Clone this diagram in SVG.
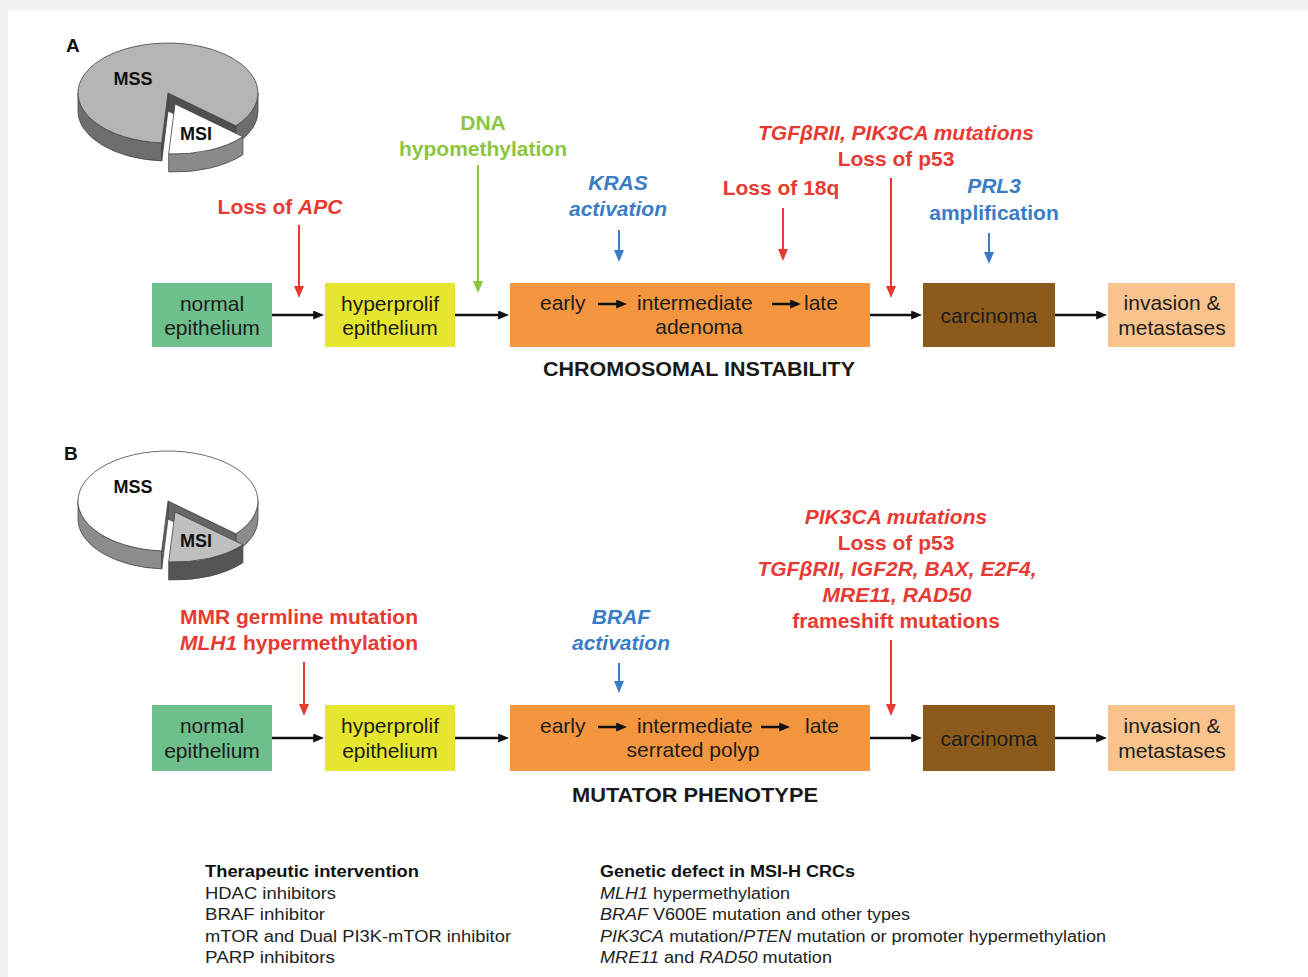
<svg xmlns="http://www.w3.org/2000/svg" width="1308" height="977" viewBox="0 0 1308 977">
<style>
text{font-family:"Liberation Sans",Arial,sans-serif}
.lbl{font-weight:bold;font-size:21px;text-anchor:middle}
.red{fill:#e63a33}
.blue{fill:#3b7cc6}
.green{fill:#8cc63f}
.it{font-style:italic}
.bx{font-size:21px;fill:#1c1c1c;text-anchor:middle}
.bxs{font-size:21px;fill:#1c1c1c}
.ttl{font-weight:bold;font-size:20px;fill:#1a1a1a;text-anchor:middle}
.pie{font-weight:bold;font-size:18px;fill:#111;text-anchor:middle}
.pl{font-weight:bold;font-size:19px;fill:#111}
.ft{font-size:16px;fill:#222}
.ftb{font-size:16px;fill:#111;font-weight:bold}
.ck{stroke:#111;stroke-width:2.5;fill:none}
.cr{stroke:#e63a33;stroke-width:2;fill:none}
.cb{stroke:#3b7cc6;stroke-width:2;fill:none}
.cg{stroke:#8cc63f;stroke-width:2;fill:none}
.ps{stroke:#444;stroke-width:0.8;stroke-linejoin:round}
</style>
<defs>
<marker id="ak" viewBox="0 0 12 10" markerWidth="12" markerHeight="9" refX="2" refY="5" orient="auto" markerUnits="userSpaceOnUse"><path d="M0,0 L12,5 L0,10 z" fill="#111"/></marker>
<marker id="ar" viewBox="0 0 12 10" markerWidth="12" markerHeight="10" refX="2" refY="5" orient="auto" markerUnits="userSpaceOnUse"><path d="M0,0 L12,5 L0,10 z" fill="#e63a33"/></marker>
<marker id="ab" viewBox="0 0 12 10" markerWidth="12" markerHeight="10" refX="2" refY="5" orient="auto" markerUnits="userSpaceOnUse"><path d="M0,0 L12,5 L0,10 z" fill="#3b7cc6"/></marker>
<marker id="ag" viewBox="0 0 12 10" markerWidth="12" markerHeight="10" refX="2" refY="5" orient="auto" markerUnits="userSpaceOnUse"><path d="M0,0 L12,5 L0,10 z" fill="#8cc63f"/></marker>
</defs>
<rect x="0" y="0" width="1308" height="977" fill="#f1f1f1"/>
<rect x="8" y="10" width="1300" height="967" fill="#ffffff"/>

<!-- Panel labels -->
<text class="pl" x="66" y="52">A</text>
<text class="pl" x="64" y="460">B</text>

<!-- Pie A -->
<g id="pieA">
<path class="ps" d="M161.7,142.9 A90,50 0 0 1 78,93 L78,111 A90,50 0 0 0 161.7,160.9 Z" fill="#6e6e6e"/>
<path class="ps" d="M258,93 A90,50 0 0 1 235.9,125.8 L235.9,143.8 A90,50 0 0 0 258,111 Z" fill="#6e6e6e"/>
<path class="ps" d="M168,93 L235.9,125.8 L235.9,143.8 L168,111 Z" fill="#4f4f4f"/>
<path class="ps" d="M168,93 L161.7,142.9 L161.7,160.9 L168,111 Z" fill="#4f4f4f"/>
<path class="ps" d="M168,93 L161.7,142.9 A90,50 0 1 1 235.9,125.8 Z" fill="#b5b5b5"/>
<path class="ps" d="M242.9,136.8 A90,50 0 0 1 168.7,153.9 L168.7,171.9 A90,50 0 0 0 242.9,154.8 Z" fill="#8a8a8a"/>
<path class="ps" d="M175,104 L242.9,136.8 A90,50 0 0 1 168.7,153.9 Z" fill="#ffffff"/>
<text class="pie" x="133" y="85">MSS</text>
<text class="pie" x="196" y="140">MSI</text>
</g>

<!-- Pie B -->
<g id="pieB">
<path class="ps" d="M161.7,550.9 A90,50 0 0 1 78,501 L78,519 A90,50 0 0 0 161.7,568.9 Z" fill="#8c8c8c"/>
<path class="ps" d="M258,501 A90,50 0 0 1 235.9,533.8 L235.9,551.8 A90,50 0 0 0 258,519 Z" fill="#8c8c8c"/>
<path class="ps" d="M168,501 L235.9,533.8 L235.9,551.8 L168,519 Z" fill="#666666"/>
<path class="ps" d="M168,501 L161.7,550.9 L161.7,568.9 L168,519 Z" fill="#666666"/>
<path class="ps" d="M168,501 L161.7,550.9 A90,50 0 1 1 235.9,533.8 Z" fill="#ffffff"/>
<path class="ps" d="M242.9,544.8 A90,50 0 0 1 168.7,561.9 L168.7,579.9 A90,50 0 0 0 242.9,562.8 Z" fill="#555555"/>
<path class="ps" d="M175,512 L242.9,544.8 A90,50 0 0 1 168.7,561.9 Z" fill="#bfbfbf"/>
<text class="pie" x="133" y="493">MSS</text>
<text class="pie" x="196" y="547">MSI</text>
</g>

<!-- Panel A nodes -->
<g id="A-normal"><rect x="152" y="283" width="120" height="64" fill="#6dbf8b"/><text class="bx" x="212" y="311">normal</text><text class="bx" x="212" y="335">epithelium</text></g>
<g id="A-hyperprolif"><rect x="325" y="283" width="130" height="64" fill="#e6e62f"/><text class="bx" x="390" y="311">hyperprolif</text><text class="bx" x="390" y="335">epithelium</text></g>
<g id="A-adenoma"><rect x="510" y="283" width="360" height="64" fill="#f4963f"/>
<text class="bxs" x="540" y="310">early</text><text class="bxs" x="637" y="310">intermediate</text><text class="bxs" x="804" y="310">late</text>
<line class="ck" x1="598" y1="304" x2="618" y2="304" marker-end="url(#ak)"/>
<line class="ck" x1="772" y1="304" x2="792" y2="304" marker-end="url(#ak)"/>
<text class="bx" x="699" y="334">adenoma</text></g>
<g id="A-carcinoma"><rect x="923" y="283" width="132" height="64" fill="#8c5b1c"/><text class="bx" x="989" y="323">carcinoma</text></g>
<g id="A-invasion"><rect x="1108" y="283" width="127" height="64" fill="#f9c38e"/><text class="bx" x="1172" y="310">invasion &amp;</text><text class="bx" x="1172" y="335">metastases</text></g>
<text class="ttl" x="699" y="376" textLength="312" lengthAdjust="spacingAndGlyphs">CHROMOSOMAL INSTABILITY</text>

<!-- Panel A labels -->
<g id="A-apc"><text class="lbl red" x="280" y="214">Loss of <tspan class="it">APC</tspan></text></g>
<g id="A-dna"><text class="lbl green" x="483" y="130">DNA</text><text class="lbl green" x="483" y="156">hypomethylation</text></g>
<g id="A-kras"><text class="lbl blue it" x="618" y="190">KRAS</text><text class="lbl blue it" x="618" y="216">activation</text></g>
<g id="A-18q"><text class="lbl red" x="781" y="195">Loss of 18q</text></g>
<g id="A-p53"><text class="lbl red it" x="896" y="140">TGFβRII, PIK3CA mutations</text><text class="lbl red" x="896" y="166">Loss of p53</text></g>
<g id="A-prl3"><text class="lbl blue it" x="994" y="193">PRL3</text><text class="lbl blue" x="994" y="220">amplification</text></g>

<!-- Panel B nodes -->
<g id="B-normal"><rect x="152" y="705" width="120" height="66" fill="#6dbf8b"/><text class="bx" x="212" y="733">normal</text><text class="bx" x="212" y="758">epithelium</text></g>
<g id="B-hyperprolif"><rect x="325" y="705" width="130" height="66" fill="#e6e62f"/><text class="bx" x="390" y="733">hyperprolif</text><text class="bx" x="390" y="758">epithelium</text></g>
<g id="B-polyp"><rect x="510" y="705" width="360" height="66" fill="#f4963f"/>
<text class="bxs" x="540" y="733">early</text><text class="bxs" x="637" y="733">intermediate</text><text class="bxs" x="805" y="733">late</text>
<line class="ck" x1="598" y1="727" x2="618" y2="727" marker-end="url(#ak)"/>
<line class="ck" x1="761" y1="727" x2="781" y2="727" marker-end="url(#ak)"/>
<text class="bx" x="693" y="757">serrated polyp</text></g>
<g id="B-carcinoma"><rect x="923" y="705" width="132" height="66" fill="#8c5b1c"/><text class="bx" x="989" y="746">carcinoma</text></g>
<g id="B-invasion"><rect x="1108" y="705" width="127" height="66" fill="#f9c38e"/><text class="bx" x="1172" y="733">invasion &amp;</text><text class="bx" x="1172" y="758">metastases</text></g>
<text class="ttl" x="695" y="802" textLength="246" lengthAdjust="spacingAndGlyphs">MUTATOR PHENOTYPE</text>

<!-- Panel B labels -->
<g id="B-mmr"><text class="lbl red" x="299" y="624">MMR germline mutation</text><text class="lbl red" x="299" y="650"><tspan class="it">MLH1</tspan> hypermethylation</text></g>
<g id="B-braf"><text class="lbl blue it" x="621" y="624">BRAF</text><text class="lbl blue it" x="621" y="650">activation</text></g>
<g id="B-pik3ca"><text class="lbl red it" x="896" y="524">PIK3CA mutations</text><text class="lbl red" x="896" y="550">Loss of p53</text><text class="lbl red it" x="897" y="576">TGFβRII, IGF2R, BAX, E2F4,</text><text class="lbl red it" x="897" y="602">MRE11, RAD50</text><text class="lbl red" x="896" y="628">frameshift mutations</text></g>

<!-- Connectors -->
<g id="connectors">
<line class="ck" x1="272" y1="315" x2="315" y2="315" marker-end="url(#ak)"/>
<line class="ck" x1="455" y1="315" x2="500" y2="315" marker-end="url(#ak)"/>
<line class="ck" x1="870" y1="315" x2="913" y2="315" marker-end="url(#ak)"/>
<line class="ck" x1="1055" y1="315" x2="1098" y2="315" marker-end="url(#ak)"/>
<line class="ck" x1="272" y1="738" x2="315" y2="738" marker-end="url(#ak)"/>
<line class="ck" x1="455" y1="738" x2="500" y2="738" marker-end="url(#ak)"/>
<line class="ck" x1="870" y1="738" x2="913" y2="738" marker-end="url(#ak)"/>
<line class="ck" x1="1055" y1="738" x2="1098" y2="738" marker-end="url(#ak)"/>
<line class="cr" x1="299" y1="225" x2="299" y2="288" marker-end="url(#ar)"/>
<line class="cg" x1="478" y1="165" x2="478" y2="283" marker-end="url(#ag)"/>
<line class="cb" x1="619" y1="230" x2="619" y2="252" marker-end="url(#ab)"/>
<line class="cr" x1="783" y1="208" x2="783" y2="251" marker-end="url(#ar)"/>
<line class="cr" x1="891" y1="178" x2="891" y2="288" marker-end="url(#ar)"/>
<line class="cb" x1="989" y1="233" x2="989" y2="254" marker-end="url(#ab)"/>
<line class="cr" x1="304" y1="662" x2="304" y2="706" marker-end="url(#ar)"/>
<line class="cb" x1="619" y1="663" x2="619" y2="683" marker-end="url(#ab)"/>
<line class="cr" x1="891" y1="640" x2="891" y2="706" marker-end="url(#ar)"/>
</g>

<!-- Footer lists -->
<g id="therapy">
<text class="ftb" x="205" y="877" textLength="214" lengthAdjust="spacingAndGlyphs">Therapeutic intervention</text>
<text class="ft" x="205" y="898.5" textLength="131" lengthAdjust="spacingAndGlyphs">HDAC inhibitors</text>
<text class="ft" x="205" y="920" textLength="120" lengthAdjust="spacingAndGlyphs">BRAF inhibitor</text>
<text class="ft" x="205" y="941.5" textLength="306" lengthAdjust="spacingAndGlyphs">mTOR and Dual PI3K-mTOR inhibitor</text>
<text class="ft" x="205" y="963" textLength="130" lengthAdjust="spacingAndGlyphs">PARP inhibitors</text>
</g>
<g id="genetic">
<text class="ftb" x="600" y="877" textLength="255" lengthAdjust="spacingAndGlyphs">Genetic defect in MSI-H CRCs</text>
<text class="ft" x="600" y="898.5" textLength="190" lengthAdjust="spacingAndGlyphs"><tspan class="it">MLH1</tspan> hypermethylation</text>
<text class="ft" x="600" y="920" textLength="310" lengthAdjust="spacingAndGlyphs"><tspan class="it">BRAF</tspan> V600E mutation and other types</text>
<text class="ft" x="600" y="941.5" textLength="506" lengthAdjust="spacingAndGlyphs"><tspan class="it">PIK3CA</tspan> mutation/<tspan class="it">PTEN</tspan> mutation or promoter hypermethylation</text>
<text class="ft" x="600" y="963" textLength="232" lengthAdjust="spacingAndGlyphs"><tspan class="it">MRE11</tspan> and <tspan class="it">RAD50</tspan> mutation</text>
</g>
</svg>
